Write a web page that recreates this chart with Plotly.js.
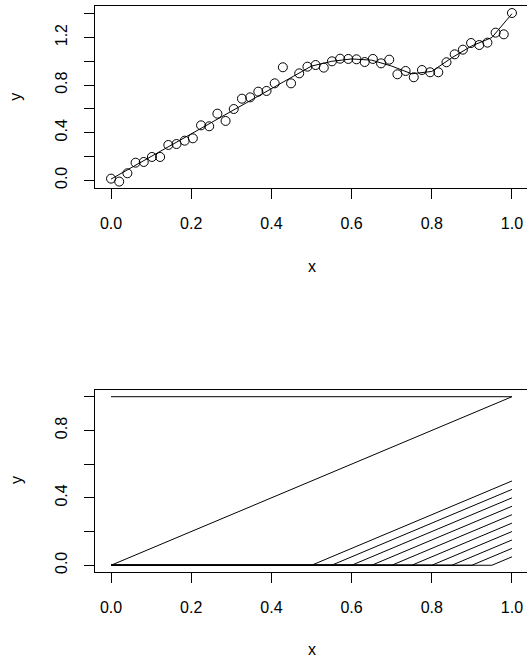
<!DOCTYPE html>
<html><head><meta charset="utf-8">
<script src="https://cdn.plot.ly/plotly-3.0.1.min.js"></script>
<style>html,body{margin:0;padding:0;overflow:hidden;background:#fff}#chart{width:540px;height:658px}</style>
</head><body><div id="chart"></div>
<script>
// Top panel: observed points
const xPoints = [0, 0.0204, 0.0408, 0.0612, 0.0816, 0.1020, 0.1224, 0.1429, 0.1633, 0.1837,
  0.2041, 0.2245, 0.2449, 0.2653, 0.2857, 0.3061, 0.3265, 0.3469, 0.3673, 0.3878,
  0.4082, 0.4286, 0.4490, 0.4694, 0.4898, 0.5102, 0.5306, 0.5510, 0.5714, 0.5918,
  0.6122, 0.6327, 0.6531, 0.6735, 0.6939, 0.7143, 0.7347, 0.7551, 0.7755, 0.7959,
  0.8163, 0.8367, 0.8571, 0.8776, 0.8980, 0.9184, 0.9388, 0.9592, 0.9796, 1.0];
const yPoints = [0.014, -0.011, 0.059, 0.148, 0.154, 0.196, 0.196, 0.297, 0.305, 0.333,
  0.353, 0.462, 0.454, 0.560, 0.499, 0.599, 0.686, 0.697, 0.745, 0.751,
  0.815, 0.950, 0.815, 0.899, 0.955, 0.969, 0.947, 1.000, 1.022, 1.020,
  1.017, 0.994, 1.020, 0.983, 1.014, 0.891, 0.919, 0.866, 0.927, 0.908,
  0.908, 0.992, 1.059, 1.098, 1.154, 1.137, 1.157, 1.241, 1.227, 1.406];
// Top panel: fitted piecewise-linear curve (values at knots)
const fitX = [0, 0.5, 0.55, 0.6, 0.65, 0.7, 0.75, 0.8, 0.85, 0.9, 0.95, 1.0];
const fitY = [0.01, 0.96, 1.00, 1.02, 1.01, 0.96, 0.895, 0.915, 1.03, 1.13, 1.20, 1.40];
// Bottom panel: basis functions
const knots = [0.5, 0.55, 0.6, 0.65, 0.7, 0.75, 0.8, 0.85, 0.9, 0.95];
const knotEnds = [0.5, 0.45, 0.4, 0.35, 0.3, 0.25, 0.2, 0.15, 0.1, 0.05];
const constX = [0, 1], constY = [1, 1];
const linX = [0, 1], linY = [0, 1];
// Tick labels
const xTickVals = [0, 0.2, 0.4, 0.6, 0.8, 1.0];
const xTickText = ['0.0', '0.2', '0.4', '0.6', '0.8', '1.0'];
const yTopVals = [0, 0.2, 0.4, 0.6, 0.8, 1.0, 1.2, 1.4];
const yTopText = ['0.0', '', '0.4', '', '0.8', '', '1.2', ''];
const yBotVals = [0, 0.2, 0.4, 0.6, 0.8, 1.0];
const yBotText = ['0.0', '', '0.4', '', '0.8', ''];

const black = '#000';
const traces = [
  {x: fitX, y: fitY, xaxis: 'x', yaxis: 'y', mode: 'lines', line: {color: black, width: 1}, hoverinfo: 'skip'},
  {x: xPoints, y: yPoints, xaxis: 'x', yaxis: 'y', mode: 'markers',
   marker: {symbol: 'circle-open', size: 9, color: black, line: {color: black, width: 1}}},
  {x: constX, y: constY, xaxis: 'x2', yaxis: 'y2', mode: 'lines', line: {color: black, width: 1}},
  {x: linX, y: linY, xaxis: 'x2', yaxis: 'y2', mode: 'lines', line: {color: black, width: 1}}
];
knots.forEach((k, i) => {
  traces.push({x: [0, k, 1], y: [0, 0, knotEnds[i]], xaxis: 'x2', yaxis: 'y2', mode: 'lines', line: {color: black, width: 1}});
});

const font = {family: 'Liberation Sans, Arial, sans-serif', size: 16, color: black};
const xa = (anchor) => ({anchor: anchor, range: [-0.04, 1.04], tickvals: xTickVals, ticktext: xTickText,
  ticks: 'outside', ticklen: 10, tickcolor: black, tickwidth: 1, showline: true, mirror: true, linecolor: black, linewidth: 1,
  zeroline: false, showgrid: false, tickfont: font, ticklabelstandoff: 11, fixedrange: true});
const ya = (anchor, domain, range, vals, text) => ({anchor: anchor, domain: domain, range: range, tickvals: vals, ticktext: text,
  tickangle: -90, ticks: 'outside', ticklen: 10, tickcolor: black, tickwidth: 1, showline: true, mirror: true, linecolor: black, linewidth: 1,
  zeroline: false, showgrid: false, tickfont: font, ticklabelstandoff: 11, fixedrange: true});

const layout = {
  width: 540, height: 658, showlegend: false,
  margin: {l: 95, r: 12, t: 6, b: 86},
  paper_bgcolor: '#fff', plot_bgcolor: '#fff', font: font,
  xaxis: xa('y'),
  yaxis: ya('x', [0.6784, 1], [-0.065, 1.465], yTopVals, yTopText),
  xaxis2: xa('y2'),
  yaxis2: ya('x2', [0, 0.3216], [-0.04, 1.04], yBotVals, yBotText),
  annotations: [
    {text: 'x', xref: 'paper', yref: 'paper', x: 0.5, y: 0.5394, xanchor: 'center', yanchor: 'middle', showarrow: false, font: font},
    {text: 'x', xref: 'paper', yref: 'paper', x: 0.5, y: -0.1378, xanchor: 'center', yanchor: 'middle', showarrow: false, font: font},
    {text: 'y', xref: 'paper', yref: 'paper', x: -0.1824, y: 0.8398, xanchor: 'center', yanchor: 'middle', textangle: -90, showarrow: false, font: font},
    {text: 'y', xref: 'paper', yref: 'paper', x: -0.1824, y: 0.1625, xanchor: 'center', yanchor: 'middle', textangle: -90, showarrow: false, font: font}
  ]
};
Plotly.newPlot('chart', traces, layout, {displayModeBar: false, staticPlot: true});
</script></body></html>
